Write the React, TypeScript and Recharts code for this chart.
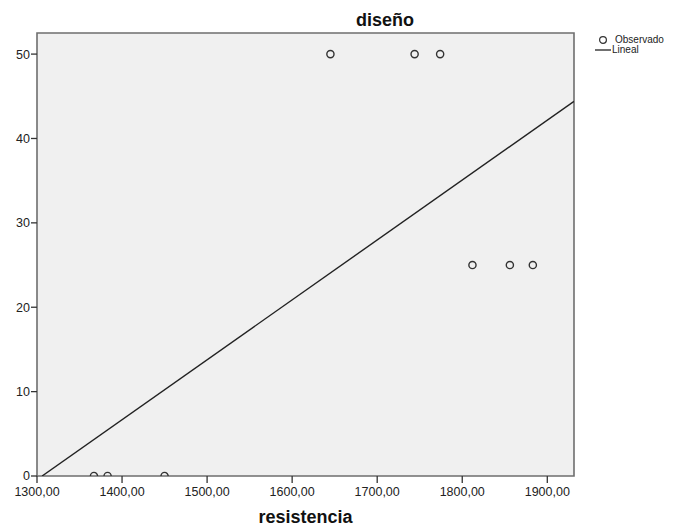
import React from 'react';
import { ScatterChart, Scatter, XAxis, YAxis, CartesianGrid, ReferenceArea } from 'recharts';

const resistencia = [1367, 1383, 1450, 1645, 1744, 1774, 1812, 1856, 1883];
const diseno = [0, 0, 0, 50, 50, 50, 25, 25, 25];

// ends of the fitted line (Lineal)
const lineX = [1306, 1931.4];
const lineY = [0, 44.4];

const xTicks = [1300, 1400, 1500, 1600, 1700, 1800, 1900];
const yTicks = [0, 10, 20, 30, 40, 50];

const X_MIN = 1300;
const X_MAX = 1931.4;
const Y_MIN = 0;
const Y_MAX = 52.5;

const observed = resistencia.map((x, i) => ({ x, y: diseno[i] }));
const fitted = lineX.map((x, i) => ({ x, y: lineY[i] }));

const FONT = '"Liberation Sans", Arial, sans-serif';

// open circle; points sitting on the bottom edge are cut by the frame, like SPSS does
const OpenCircle = (props: any) => {
  const { cx, cy, payload } = props;
  const r = 3.6;
  if (payload && payload.y <= Y_MIN) {
    return (
      <path
        d={`M${cx - r},${cy} A${r},${r} 0 0 1 ${cx + r},${cy}`}
        fill="none"
        stroke="#333"
        strokeWidth={1.4}
      />
    );
  }
  return <circle cx={cx} cy={cy} r={r} fill="none" stroke="#333" strokeWidth={1.4} />;
};

const LegendBox = () => (
  <div
    style={{
      position: 'absolute',
      left: 595,
      top: 35,
      fontFamily: FONT,
      fontSize: 10,
      color: '#222',
    }}
  >
    <div style={{ display: 'flex', alignItems: 'center', height: 10, lineHeight: '10px' }}>
      <svg width={16} height={10}>
        <circle cx={8} cy={5} r={3.4} fill="none" stroke="#333" strokeWidth={1.2} />
      </svg>
      <span style={{ marginLeft: 4 }}>Observado</span>
    </div>
    <div style={{ display: 'flex', alignItems: 'center', height: 10, lineHeight: '10px' }}>
      <svg width={16} height={10}>
        <line x1={0} y1={5} x2={16} y2={5} stroke="#222" strokeWidth={1.3} />
      </svg>
      <span style={{ marginLeft: 1 }}>Lineal</span>
    </div>
  </div>
);

const App = () => {
  return (
    <div style={{ position: 'absolute', left: 0, top: 0, width: 680, height: 527, background: '#fff' }}>
      <ScatterChart
        width={680}
        height={527}
        margin={{ top: 33, right: 106, bottom: 0, left: 7 }}
      >
        <CartesianGrid horizontal={false} vertical={false} fill="#f0f0f0" />
        <XAxis
          type="number"
          dataKey="x"
          domain={[X_MIN, X_MAX]}
          ticks={xTicks}
          allowDataOverflow
          height={51}
          axisLine={false}
          tickSize={7}
          tickMargin={4}
          tickLine={{ stroke: '#333', strokeWidth: 1.3 }}
          tick={{ fill: '#222', fontSize: 12.5, fontFamily: FONT }}
          tickFormatter={(v: number) => v.toFixed(2).replace('.', ',')}
          label={{
            value: 'resistencia',
            position: 'insideBottom',
            offset: 4,
            style: { fontFamily: FONT, fontWeight: 'bold', fontSize: 18, fill: '#111' },
          }}
        />
        <YAxis
          type="number"
          dataKey="y"
          domain={[Y_MIN, Y_MAX]}
          ticks={yTicks}
          allowDataOverflow
          width={30}
          axisLine={false}
          tickSize={6}
          tickMargin={1}
          tickLine={{ stroke: '#333', strokeWidth: 1.3 }}
          tick={{ fill: '#222', fontSize: 12.5, fontFamily: FONT }}
        />
        <ReferenceArea
          x1={X_MIN}
          x2={X_MAX}
          y1={Y_MIN}
          y2={Y_MAX}
          fill="none"
          stroke="#6e6e6e"
          strokeWidth={1.6}
          ifOverflow="visible"
        />
        <Scatter
          name="Lineal"
          data={fitted}
          line={{ stroke: '#222', strokeWidth: 1.4 }}
          shape={() => null}
          isAnimationActive={false}
        />
        <Scatter name="Observado" data={observed} shape={OpenCircle} isAnimationActive={false} />
      </ScatterChart>
      <div
        style={{
          position: 'absolute',
          left: 385,
          top: 10,
          transform: 'translateX(-50%)',
          fontFamily: FONT,
          fontWeight: 'bold',
          fontSize: 18,
          lineHeight: '20px',
          color: '#111',
        }}
      >
        diseño
      </div>
      <LegendBox />
    </div>
  );
};

export default App;
